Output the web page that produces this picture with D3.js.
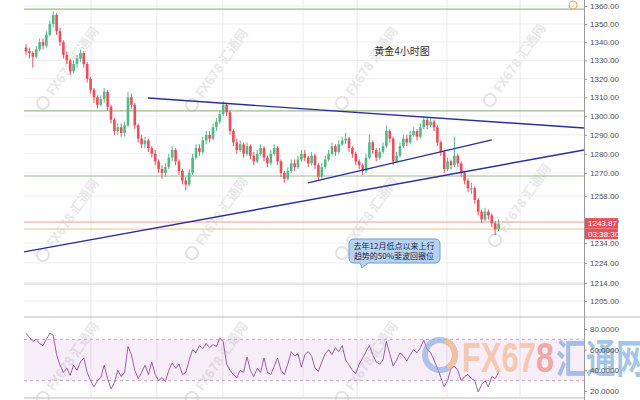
<!DOCTYPE html>
<html><head><meta charset="utf-8">
<script src="https://cdn.jsdelivr.net/npm/d3@7"></script>
<style>body{margin:0;background:#fff}svg{display:block}</style>
</head><body>
<svg id="c" width="640" height="400"></svg>
<script>
// ---------- data ----------
const firstOpen = 1337;
const closes = [1335,1334,1332,1336,1340,1338,1344,1350,1355,1346,
1340,1333,1330,1324,1328,1331,1334,1328,1320,1314,
1310,1306,1309,1313,1305,1298,1292,1294,1291,1295,
1310,1306,1295,1288,1285,1287,1283,1280,1276,1272,
1270,1273,1278,1282,1276,1271,1266,1264,1270,1278,
1283,1281,1287,1290,1288,1294,1297,1301,1306,1302,
1292,1286,1282,1285,1280,1284,1279,1276,1280,1283,
1278,1275,1280,1283,1276,1270,1267,1271,1275,1273,
1277,1280,1278,1275,1279,1274,1268,1273,1277,1280,
1284,1281,1285,1287,1288,1283,1280,1276,1274,1271,
1278,1286,1282,1278,1281,1284,1292,1288,1276,1279,
1284,1288,1286,1290,1292,1289,1294,1298,1295,1297,
1294,1286,1281,1272,1276,1274,1279,1275,1270,1266,
1262,1262,1256,1250,1246,1250,1248,1244,1241,1243.87];
const highs = [1339,1337,1335,1338,1342,1342,1346,1352,1357,1356,
1348,1341,1335,1331,1330,1333,1336,1335,1329,1321,
1315,1311,1311,1315,1314,1306,1299,1296,1296,1297,
1313,1312,1307,1296,1290,1289,1288,1284,1282,1277,
1274,1275,1280,1284,1283,1277,1272,1268,1272,1280,
1285,1285,1289,1292,1292,1296,1299,1303,1308,1307,
1303,1293,1288,1287,1286,1286,1285,1281,1282,1285,
1284,1279,1282,1285,1284,1277,1271,1273,1277,1277,
1279,1282,1282,1279,1281,1280,1275,1275,1279,1282,
1286,1285,1287,1289,1291,1289,1284,1281,1277,1275,
1280,1290,1287,1283,1283,1286,1295,1293,1289,1281,
1286,1290,1290,1292,1294,1293,1296,1300,1299,1299,
1298,1295,1287,1282,1278,1277,1289,1280,1276,1271,
1267,1265,1263,1257,1251,1252,1251,1249,1245,1246];
const lows = [1333,1331,1326,1331,1335,1336,1337,1343,1348,1344,
1338,1331,1328,1322,1323,1326,1329,1326,1318,1312,
1307,1304,1305,1307,1303,1296,1290,1290,1289,1289,
1294,1304,1293,1286,1283,1283,1281,1278,1274,1270,
1267,1268,1272,1276,1274,1269,1264,1261,1263,1269,
1277,1279,1280,1285,1286,1287,1292,1296,1300,1300,
1290,1284,1280,1281,1278,1279,1277,1274,1275,1279,
1276,1273,1274,1279,1274,1268,1265,1266,1270,1271,
1272,1276,1276,1273,1274,1272,1266,1267,1272,1276,
1279,1279,1280,1284,1285,1281,1278,1274,1272,1269,
1270,1277,1280,1276,1277,1280,1283,1286,1274,1275,
1278,1283,1284,1285,1289,1287,1288,1293,1293,1294,
1292,1284,1279,1270,1271,1272,1273,1273,1268,1264,
1260,1259,1254,1248,1244,1245,1246,1242,1238,1240];
const rsi = [76,72,68,70,66,64,70,76,74,55,
45,38,42,35,45,40,48,52,38,30,
24,30,33,45,32,22,28,40,34,38,
63,55,40,32,38,45,36,48,36,30,
33,29,40,47,42,46,36,38,50,60,
57,64,61,66,62,65,63,71,68,46,
40,36,33,40,38,53,40,34,42,38,
52,38,36,44,52,40,36,46,58,54,
56,43,55,58,54,42,39,48,56,60,
55,62,58,64,50,45,40,37,46,52,
58,64,55,48,46,50,68,56,44,50,
57,54,49,55,60,57,62,69,60,57,
50,42,33,24,30,42,44,40,30,34,
36,32,30,19,26,30,24,34,32,38];
const priceTicks = [1360,1350,1340,1330,1320,1310,1300,1290,1280,1270,1258,1245,1234,1224,1214,1205];
const rsiTicks = [80,60,40,20];
const timeGridIdx = [19.1,38.5,57.9,81.5,97.4,123.8,145.3];
const hLevels = [1358.3,1302.7,1268.4];          // green support/resistance
const lastPrice = 1243.87;
const fibLevel = 1241.1;
const greyLevel = 1213.4;
const trendLines = [
  [[35.9,1309.6],[164.1,1293.6]],
  [[82.9,1264.8],[137.0,1287.3]],
  [[-0.6,1229.5],[164.1,1282.0]]
];
const title = "黄金4小时图";
const noteLines = ["去年12月低点以来上行","趋势的50%斐波回撤位"];
const countdown = "03:38:30";

// ---------- scales ----------
const svg = d3.select("#c");
const plotL = 24, plotR = 584;
const x = d3.scaleLinear().domain([0, closes.length-1]).range([26, 498.6]);
const y = d3.scaleLog().domain([1205,1360]).range([301,6]);
const yr = d3.scaleLinear().domain([20,80]).range([391,329]);
const fontLat = "'Liberation Sans', Arial, sans-serif";
const fontCJK = "'Noto Sans CJK SC', sans-serif";

const data = closes.map((c,i)=>({i, o: i===0?firstOpen:closes[i-1], c, h: highs[i], l: lows[i]}));

// ---------- grid ----------
const grid = svg.append("g");
grid.selectAll("line.h").data(priceTicks).join("line")
  .attr("x1",plotL).attr("x2",plotR).attr("y1",d=>y(d)).attr("y2",d=>y(d))
  .attr("stroke","#f0f0f0").attr("stroke-width",1);
grid.selectAll("line.v").data(timeGridIdx).join("line")
  .attr("x1",d=>x(d)).attr("x2",d=>x(d)).attr("y1",0).attr("y2",398)
  .attr("stroke","#ececec").attr("stroke-width",1);

// ---------- watermarks (small) ----------
const wmPos = [[43,103],[192,105],[342,103],[490,100],[43,255],[192,253],[342,253],[495,240],[43,398],[192,398],[342,398]];
const wm = svg.append("g").attr("pointer-events","none");
wmPos.forEach(([cx,cy])=>{
  const g = wm.append("g").attr("transform",`translate(${cx},${cy}) rotate(-55)`);
  g.append("circle").attr("r",6).attr("fill","none").attr("stroke","#e4e4e4").attr("stroke-width",2);
  g.append("text").attr("x",11).attr("y",5).text("FX678 汇通网")
    .attr("font-family",fontCJK).attr("font-weight","bold").attr("font-size",13).attr("fill","#e9e9e9");
});

// ---------- RSI pane ----------
const rp = svg.append("g");
rp.append("rect").attr("x",plotL).attr("width",plotR-plotL).attr("y",yr(70)).attr("height",yr(30)-yr(70))
  .attr("fill","#9c27b0").attr("fill-opacity",0.08);
[70,30].forEach(v=>rp.append("line").attr("x1",plotL).attr("x2",plotR).attr("y1",yr(v)).attr("y2",yr(v))
  .attr("stroke","#c9a3d6").attr("stroke-dasharray","3,3"));
rp.append("line").attr("x1",plotL).attr("x2",640).attr("y1",317).attr("y2",317).attr("stroke","#bbb");
rp.append("line").attr("x1",plotL).attr("x2",plotR).attr("y1",398).attr("y2",398).attr("stroke","#bbb");

// big watermark
const big = svg.append("g").attr("opacity",0.6);
big.append("circle").attr("cx",440).attr("cy",355).attr("r",15).attr("fill","none")
  .attr("stroke","#7fa7dc").attr("stroke-width",6);
big.append("path").attr("d",d3.arc()({innerRadius:12,outerRadius:18,startAngle:0.3,endAngle:2.6}))
  .attr("transform","translate(440,355)").attr("fill","#f3a466");
big.append("text").attr("x",462).attr("y",372).text("FX67")
  .attr("font-family",fontLat).attr("font-weight","bold").attr("font-size",42).attr("fill","#f6b27e")
  .attr("textLength",74).attr("lengthAdjust","spacingAndGlyphs");
big.append("text").attr("x",536).attr("y",372).text("8")
  .attr("font-family",fontLat).attr("font-weight","bold").attr("font-size",42).attr("fill","#f07a6a")
  .attr("textLength",18).attr("lengthAdjust","spacingAndGlyphs");
big.append("text").attr("x",556).attr("y",373).text("汇通网")
  .attr("font-family",fontCJK).attr("font-weight","bold").attr("font-size",40).attr("fill","#6b9fd8")
  .attr("textLength",90).attr("lengthAdjust","spacingAndGlyphs");

// RSI line
rp.append("path").datum(rsi).attr("fill","none").attr("stroke","#9a4aab").attr("stroke-width",0.9)
  .attr("d", d3.line().x((d,i)=>x(i)).y(d=>yr(d)));

// ---------- horizontal levels ----------
const lv = svg.append("g");
lv.selectAll("line").data(hLevels).join("line")
  .attr("x1",plotL).attr("x2",plotR).attr("y1",d=>y(d)).attr("y2",d=>y(d))
  .attr("stroke","#9cb98a").attr("stroke-width",1.2);
lv.append("line").attr("x1",plotL).attr("x2",plotR).attr("y1",y(greyLevel)).attr("y2",y(greyLevel))
  .attr("stroke","#d0d0d0").attr("stroke-width",1);
lv.append("line").attr("x1",plotL).attr("x2",plotR).attr("y1",y(lastPrice)-1.5).attr("y2",y(lastPrice)-1.5)
  .attr("stroke","#f2a3a3").attr("stroke-width",1);
lv.append("line").attr("x1",plotL).attr("x2",plotR).attr("y1",y(fibLevel)).attr("y2",y(fibLevel))
  .attr("stroke","#f5bd85").attr("stroke-width",1);

// ---------- candles ----------
const up = "#53b987", dn = "#eb4d5c";
const cg = svg.append("g");
cg.selectAll("line").data(data).join("line")
  .attr("x1",d=>x(d.i)).attr("x2",d=>x(d.i)).attr("y1",d=>y(d.h)).attr("y2",d=>y(d.l))
  .attr("stroke",d=>d.c>=d.o?up:dn).attr("stroke-width",1);
cg.selectAll("rect").data(data).join("rect")
  .attr("x",d=>x(d.i)-1.3).attr("width",2.6)
  .attr("y",d=>y(Math.max(d.o,d.c)))
  .attr("height",d=>Math.max(1,Math.abs(y(d.o)-y(d.c))))
  .attr("fill",d=>d.c>=d.o?up:dn);

// ---------- trend lines ----------
svg.append("g").selectAll("line").data(trendLines).join("line")
  .attr("x1",d=>x(d[0][0])).attr("y1",d=>y(d[0][1]))
  .attr("x2",d=>x(d[1][0])).attr("y2",d=>y(d[1][1]))
  .attr("stroke","#2b2f9e").attr("stroke-width",1.4);

// ---------- axes ----------
svg.append("line").attr("x1",plotR+0.5).attr("x2",plotR+0.5).attr("y1",0).attr("y2",400).attr("stroke","#9a9a9a");
const ax = svg.append("g").attr("transform",`translate(${plotR},0)`)
  .call(d3.axisRight(y).tickValues(priceTicks).tickFormat(d3.format(".2f")).tickSize(3).tickPadding(3));
ax.select(".domain").remove();
ax.selectAll("line").attr("stroke","#999");
ax.selectAll("text").attr("font-family",fontLat).attr("font-size",8).attr("fill","#555");
const ax2 = svg.append("g").attr("transform",`translate(${plotR},0)`)
  .call(d3.axisRight(yr).tickValues(rsiTicks).tickFormat(d3.format(".4f")).tickSize(3).tickPadding(3));
ax2.select(".domain").remove();
ax2.selectAll("line").attr("stroke","#999");
ax2.selectAll("text").attr("font-family",fontLat).attr("font-size",8).attr("fill","#555");

// price labels
const ly = y(lastPrice);
svg.append("rect").attr("x",plotR+1).attr("y",ly-5.5).attr("width",33).attr("height",10.5).attr("fill","#e8505e");
svg.append("text").attr("x",plotR+4).attr("y",ly+2.5).text(d3.format(".2f")(lastPrice))
  .attr("font-family",fontLat).attr("font-size",8).attr("fill","#fff");
svg.append("rect").attr("x",plotR+1).attr("y",ly+5).attr("width",33).attr("height",10.5).attr("fill","#e8505e");
svg.append("text").attr("x",plotR+4).attr("y",ly+13).text(countdown)
  .attr("font-family",fontLat).attr("font-size",8).attr("fill","#fff");

// small icon
svg.append("circle").attr("cx",573).attr("cy",5).attr("r",4).attr("fill","#fff").attr("stroke","#f0a060");
svg.append("text").attr("x",573).attr("y",7.5).attr("text-anchor","middle").text("!")
  .attr("font-family",fontLat).attr("font-size",6).attr("fill","#f0a060");

// ---------- title ----------
svg.append("text").attr("x",402).attr("y",55).attr("text-anchor","middle").text(title)
  .attr("font-family",fontCJK).attr("font-size",10).attr("fill","#333");

// ---------- callout ----------
const co = svg.append("g");
co.append("path")
  .attr("d","M354,239 H435 Q440,239 440,244 V258 Q440,263 435,263 H368 L362,268 L360,263 H354 Q349,263 349,258 V244 Q349,239 354,239 Z")
  .attr("fill","#b6d2ef").attr("stroke","#6d9fd6").attr("stroke-width",1);
co.selectAll("text").data(noteLines).join("text")
  .attr("x",394).attr("y",(d,i)=>249+i*9.5).attr("text-anchor","middle").text(d=>d)
  .attr("font-family",fontCJK).attr("font-size",8).attr("fill","#1e2a44");
</script>
</body></html>
